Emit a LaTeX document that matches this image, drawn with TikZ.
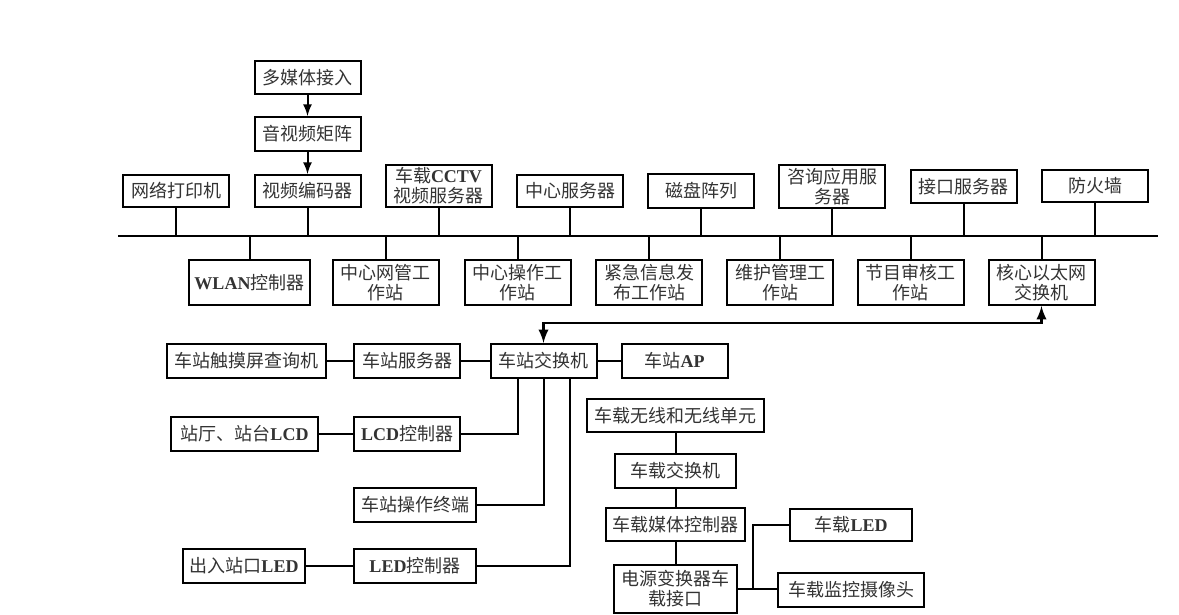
\documentclass[tikz,border=0pt]{standalone}
\usepackage{fontspec}
\setmainfont{Liberation Serif}
\newfontfamily\cjk{Noto Sans CJK SC}
\usepackage{tikz}
\usetikzlibrary{arrows,calc}
\newcommand{\lat}[1]{{\rmfamily\bfseries #1}}
\tikzset{
  box/.style={draw, line width=1pt, inner xsep=1pt, inner ysep=0pt, align=center, text=black!80,
    font=\cjk\fontsize{9}{10}\selectfont, minimum width=53pt, minimum height=16.5pt},
  twoline/.style={box, minimum height=22.5pt},
  wire/.style={line width=1pt},
}

\begin{document}
\begin{tikzpicture}[x=0.5pt,y=-0.5pt]
\useasboundingbox (0,0) rectangle (1179,615);

\node[box] (mm) at (307.5,77.5) {多媒体接入};
\node[box, minimum height=17pt] (avm) at (307.5,134) {音视频矩阵};
\node[box, minimum height=16pt] (enc) at (307.5,191) {视频编码器};
\node[box, minimum height=16pt] (prn) at (176,191) {网络打印机};
\node[box, minimum height=21pt] (cctv) at (438.5,186) {车载\lat{CCTV}\\视频服务器};
\node[box, minimum height=16pt] (csrv) at (570,191) {中心服务器};
\node[box, minimum height=17pt] (disk) at (701,191) {磁盘阵列};
\node[box, minimum height=21.5pt] (qry) at (832,186.5) {咨询应用服\\务器};
\node[box] (ifs) at (963.5,186.5) {接口服务器};
\node[box, minimum height=16pt] (fw) at (1095,186) {防火墙};

\node[twoline, minimum width=60.5pt] (wlan) at (249.5,282.5) {\lat{WLAN}控制器};
\node[twoline] (nms) at (385.5,282.5) {中心网管工\\作站};
\node[twoline] (ops) at (517.5,282.5) {中心操作工\\作站};
\node[twoline] (emg) at (649,282.5) {紧急信息发\\布工作站};
\node[twoline] (mnt) at (780,282.5) {维护管理工\\作站};
\node[twoline] (prog) at (910.5,282.5) {节目审核工\\作站};
\node[twoline] (core) at (1041.5,282.5) {核心以太网\\交换机};

\coordinate (busL) at (118,236);
\coordinate (busR) at (1158,236);
\draw[wire] (busL) -- (busR);
\foreach \n in {prn,enc,cctv,csrv,disk,qry,ifs,fw}
  \draw[wire] (\n.south) -- (\n.south |- busL);
\foreach \n in {wlan,nms,ops,emg,mnt,prog,core}
  \draw[wire] (\n.north) -- (\n.north |- busL);
\draw[wire,-latex] (mm) -- (avm);
\draw[wire,-latex] (avm) -- (enc);

\node[box, minimum width=79.5pt, minimum height=17pt] (touch) at (246.5,361) {车站触摸屏查询机};
\node[box, minimum height=17pt] (ssrv) at (407,361) {车站服务器};
\node[box, minimum height=17pt] (ssw) at (543.5,361) {车站交换机};
\node[box, minimum height=17pt] (sap) at (674.5,361) {车站\lat{AP}};
\node[box, minimum width=73.5pt, minimum height=17pt] (lcd) at (244.5,434) {站厅、站台\lat{LCD}};
\node[box, minimum height=17pt] (lcdc) at (407,434) {\lat{LCD}控制器};
\node[box, minimum width=61pt, minimum height=17pt] (sop) at (415,505) {车站操作终端};
\node[box, minimum width=61pt, minimum height=17pt] (led) at (244,566) {出入站口\lat{LED}};
\node[box, minimum width=61pt, minimum height=17pt] (ledc) at (415,566) {\lat{LED}控制器};

\draw[wire] (touch) -- (ssrv);
\draw[wire] (ssrv) -- (ssw);
\draw[wire] (ssw) -- (sap);
\draw[wire] (lcd) -- (lcdc);
\draw[wire] (led) -- (ledc);
\draw[wire] (lcdc.east) -| ([xshift=-12.75pt]ssw.south);
\draw[wire] (sop.east) -| (ssw.south);
\draw[wire] (ledc.east) -| ([xshift=13.25pt]ssw.south);
\coordinate (uplink) at (800,323);
\draw[wire,line width=1.3pt,latex-latex] (ssw.north) -- (ssw.north |- uplink) -- (core.south |- uplink) -- (core.south);

\node[box, minimum width=88.5pt] (vwl) at (675.5,415.5) {车载无线和无线单元};
\node[box, minimum width=60.5pt, minimum height=17pt] (vsw) at (675.5,471) {车载交换机};
\node[box, minimum width=69.5pt] (vmc) at (675.5,524.5) {车载媒体控制器};
\node[box, minimum width=61.5pt, minimum height=24pt] (pwr) at (675.5,589) {电源变换器车\\载接口};
\node[box, minimum width=61pt, minimum height=16pt] (vled) at (851,525) {车载\lat{LED}};
\node[box, minimum width=73pt, minimum height=17pt] (cam) at (851,590) {车载监控摄像头};

\draw[wire] (vwl) -- (vsw);
\draw[wire] (vsw) -- (vmc);
\draw[wire] (vmc) -- (pwr);
\coordinate (vjoin) at (753,590);
\draw[wire] (pwr.east) -- (cam.west |- pwr.east);
\draw[wire] (pwr.east -| vjoin) |- (vled.west);
\end{tikzpicture}
\end{document}
